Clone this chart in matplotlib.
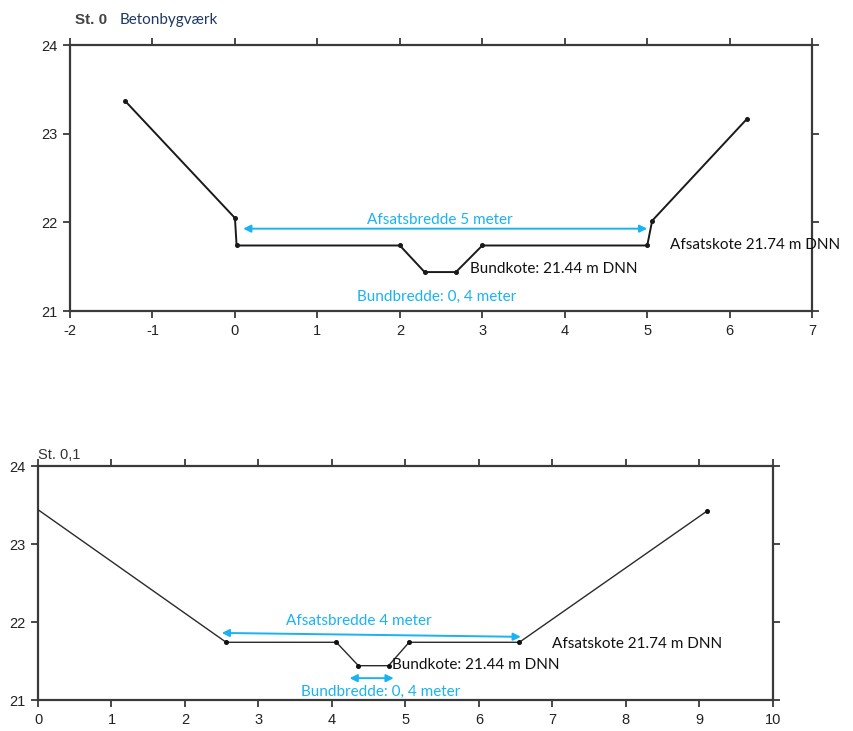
import matplotlib
matplotlib.use('Agg')
import matplotlib.pyplot as plt

plt.rcParams['axes.unicode_minus'] = False

# ── Data: St. 0 (Betonbygværk) ─────────────────────────────────────────────────
st0_x = [-1.33, 0.0, 0.02, 2.0, 2.3, 2.68, 3.0, 5.0, 5.06, 6.21]
st0_y = [23.37, 22.05, 21.74, 21.74, 21.44, 21.44, 21.74, 21.74, 22.02, 23.17]
st0_xticks = [-2, -1, 0, 1, 2, 3, 4, 5, 6, 7]

# ── Data: St. 0,1 ──────────────────────────────────────────────────────────────
st01_x = [0.0, 2.56, 4.06, 4.36, 4.77, 5.05, 6.55, 9.1]
st01_y = [23.44, 21.74, 21.74, 21.44, 21.44, 21.74, 21.74, 23.42]
st01_xticks = [0, 1, 2, 3, 4, 5, 6, 7, 8, 9, 10]

yticks = [21, 22, 23, 24]

BLUE = '#1ab2f0'
AX_COL = '#3a3a3a'
TXT_FONT = ['Lato', 'DejaVu Sans']
TICK_FONT = ['Liberation Sans', 'DejaVu Sans']

fig = plt.figure(figsize=(8.54, 7.31), dpi=100)
ax1 = fig.add_axes([0.082, 0.5745, 0.869, 0.3635])
ax2 = fig.add_axes([0.0445, 0.0424, 0.8605, 0.3201])


def style_axes(ax, xticks, xlim):
    ax.set_xlim(*xlim)
    ax.set_ylim(21, 24)
    ax.set_xticks(xticks)
    ax.set_yticks(yticks)
    for s in ax.spines.values():
        s.set_linewidth(1.6)
        s.set_color(AX_COL)
    ax.tick_params(direction='out', length=5, width=1.3, color=AX_COL,
                   top=True, right=True, labeltop=False, labelright=False,
                   labelsize=10.5, labelcolor='#222222', pad=4)
    for lab in ax.get_xticklabels() + ax.get_yticklabels():
        lab.set_family(TICK_FONT)


# ── Top panel ──────────────────────────────────────────────────────────────────
style_axes(ax1, st0_xticks, (-2, 7))
ax1.plot(st0_x, st0_y, color='#1a1a1a', lw=1.4, marker='o', ms=2.6, zorder=3)
ax1.annotate('', xy=(0.1, 21.93), xytext=(5.0, 21.93),
             arrowprops=dict(arrowstyle='<|-|>', color=BLUE, lw=1.4,
                             mutation_scale=11, shrinkA=0, shrinkB=0))
ax1.text(2.48, 22.03, 'Afsatsbredde 5 meter', color=BLUE, ha='center',
         va='center', fontsize=11, family=TXT_FONT)
ax1.text(5.27, 21.75, 'Afsatskote 21.74 m DNN', color='#111111', ha='left',
         va='center', fontsize=11, family=TXT_FONT, clip_on=False)
ax1.text(2.85, 21.47, 'Bundkote: 21.44 m DNN', color='#111111', ha='left',
         va='center', fontsize=11, family=TXT_FONT)
ax1.text(2.45, 21.16, 'Bundbredde: 0, 4 meter', color=BLUE, ha='center',
         va='center', fontsize=11, family=TXT_FONT)
fig.text(0.088, 0.973, 'St. 0', color='#444444', fontsize=11,
         fontweight='bold', family=TICK_FONT, va='center')
fig.text(0.140, 0.973, 'Betonbygværk', color='#1f3864', fontsize=11,
         family=TXT_FONT, va='center')

# ── Bottom panel ───────────────────────────────────────────────────────────────
style_axes(ax2, st01_xticks, (0, 10))
ax2.plot(st01_x, st01_y, color='#2a2a2a', lw=1.0, zorder=3)
ax2.plot(st01_x[1:], st01_y[1:], ls='none', color='#111111', marker='o',
         ms=2.6, zorder=4)
ax2.annotate('', xy=(2.5, 21.86), xytext=(6.57, 21.81),
             arrowprops=dict(arrowstyle='<|-|>', color=BLUE, lw=1.4,
                             mutation_scale=11, shrinkA=0, shrinkB=0))
ax2.text(4.36, 22.01, 'Afsatsbredde 4 meter', color=BLUE, ha='center',
         va='center', fontsize=11, family=TXT_FONT)
ax2.text(7.0, 21.72, 'Afsatskote 21.74 m DNN', color='#111111', ha='left',
         va='center', fontsize=11, family=TXT_FONT)
ax2.text(4.82, 21.45, 'Bundkote: 21.44 m DNN', color='#111111', ha='left',
         va='center', fontsize=11, family=TXT_FONT)
ax2.annotate('', xy=(4.24, 21.28), xytext=(4.84, 21.28),
             arrowprops=dict(arrowstyle='<|-|>', color=BLUE, lw=1.4,
                             mutation_scale=11, shrinkA=0, shrinkB=0))
ax2.text(4.66, 21.1, 'Bundbredde: 0, 4 meter', color=BLUE, ha='center',
         va='center', fontsize=11, family=TXT_FONT)
fig.text(0.045, 0.378, 'St. 0,1', color='#333333', fontsize=10.5,
         family=TICK_FONT, va='center')

plt.savefig('out.png', dpi=100)
plt.close()
